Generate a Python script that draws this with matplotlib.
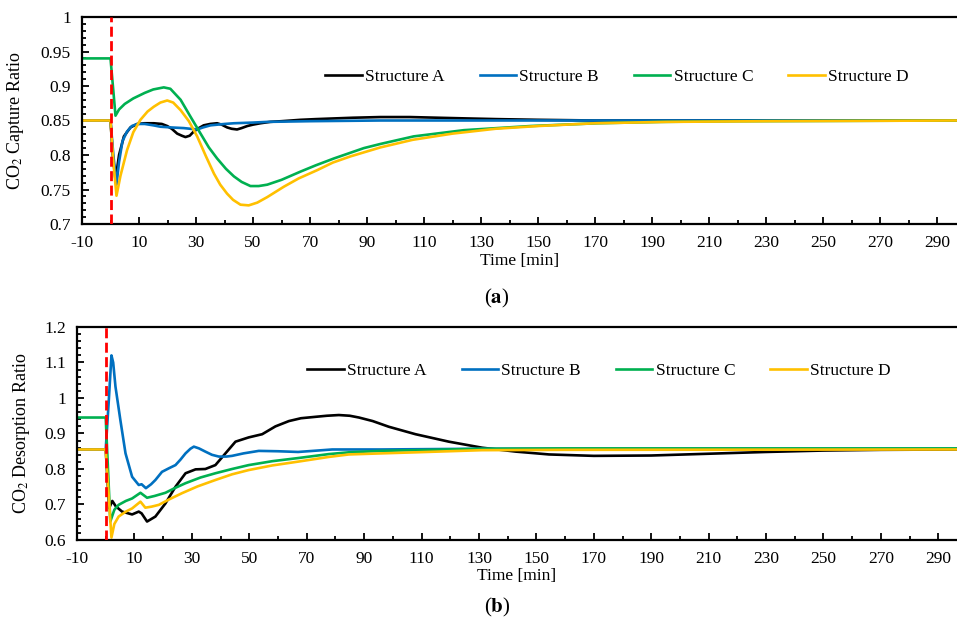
import numpy as np
import matplotlib
matplotlib.use('Agg')
import matplotlib.pyplot as plt
from matplotlib.ticker import MultipleLocator, FuncFormatter

plt.rcParams['font.family'] = ['Liberation Serif', 'DejaVu Serif']
plt.rcParams['mathtext.fontset'] = 'stix'
plt.rcParams['font.size'] = 12.5
plt.rcParams['axes.unicode_minus'] = False

names = ['Structure A', 'Structure B', 'Structure C', 'Structure D']
colors = ['#000000', '#0070C0', '#00B050', '#FFC000']

# (a) CO2 capture ratio
t_a = [-10, 0, 0.8, 1.75, 3, 4.7, 7, 9.4, 12, 15.2, 18, 19.9, 21.5, 23.4, 25, 26.3, 27.8, 29.2, 31, 32.7,
       35, 37.4, 39, 40.9, 42.5, 44.4, 46, 48, 50, 52.6, 56, 60, 66.7, 72, 78.4, 85, 94.7, 105, 115, 125,
       135.6, 150, 170, 200, 250, 297]
cap_a = [0.85, 0.85, 0.80, 0.764, 0.80, 0.827, 0.840, 0.845, 0.846, 0.846, 0.845, 0.842, 0.838, 0.831, 0.828,
         0.826, 0.828, 0.834, 0.839, 0.843, 0.845, 0.846, 0.844, 0.840, 0.838, 0.837, 0.839, 0.842, 0.844,
         0.846, 0.848, 0.849, 0.851, 0.852, 0.853, 0.854, 0.855, 0.855, 0.854, 0.853, 0.852, 0.851, 0.850,
         0.85, 0.85, 0.85]
t_b = [-10, 0, 1, 2.1, 3, 4.2, 5.8, 7.5, 9.4, 12, 15, 17.5, 21, 25.7, 28, 30.4, 32.5, 35.1, 40, 43.3, 50,
       55, 70, 94.7, 150, 297]
cap_b = [0.85, 0.85, 0.80, 0.757, 0.79, 0.82, 0.834, 0.842, 0.845, 0.845, 0.843, 0.841, 0.840, 0.839, 0.838,
         0.837, 0.840, 0.843, 0.845, 0.846, 0.847, 0.848, 0.849, 0.85, 0.85, 0.85]
t_c = [-10, 0, 1.75, 3, 5, 8, 12, 15, 18.7, 21, 24.6, 28, 31.6, 34.5, 37.4, 40.5, 43.3, 46, 49.1, 52, 55,
       60, 66.7, 72, 78.4, 88.9, 94.7, 106.4, 124, 147.4, 170.8, 193, 220, 297]
cap_c = [0.94, 0.94, 0.857, 0.866, 0.874, 0.882, 0.890, 0.895, 0.898, 0.896, 0.88, 0.856, 0.831, 0.811,
         0.795, 0.780, 0.769, 0.761, 0.755, 0.755, 0.757, 0.764, 0.776, 0.785, 0.795, 0.810, 0.816, 0.827,
         0.836, 0.842, 0.846, 0.848, 0.849, 0.85]
t_d = [-10, 0, 1, 2.1, 3.5, 5.8, 8, 10.5, 13, 15.2, 17.5, 19.9, 22, 24.6, 27.5, 30.4, 33.5, 36.3, 38.5,
       40.9, 43, 45.6, 48.5, 51.5, 55, 60.8, 66, 72.5, 78, 84.2, 94.7, 106, 120, 135, 150, 170, 195, 230, 297]
cap_d = [0.85, 0.85, 0.79, 0.741, 0.77, 0.807, 0.833, 0.851, 0.863, 0.870, 0.876, 0.879, 0.876, 0.865,
         0.849, 0.827, 0.798, 0.773, 0.757, 0.744, 0.735, 0.728, 0.727, 0.731, 0.739, 0.754, 0.766, 0.778,
         0.789, 0.798, 0.811, 0.822, 0.831, 0.838, 0.842, 0.846, 0.848, 0.849, 0.85]

# (b) CO2 desorption ratio
s_a = [-10, 0, 1.2, 2.3, 3.5, 5.7, 9.2, 11.5, 12.5, 14.4, 17.3, 20.8, 24.3, 27.8, 31.3, 34.7, 38.2, 41.7,
       45.2, 49.8, 54.5, 59.1, 63.8, 68, 73.1, 77, 81.2, 85, 88.2, 93, 98.6, 107.9, 119.5, 131.1, 142.8,
       154.4, 170, 190, 210, 230, 250, 270, 297]
des_a = [0.855, 0.855, 0.69, 0.71, 0.695, 0.68, 0.672, 0.68, 0.675, 0.652, 0.666, 0.703, 0.75, 0.788, 0.799,
         0.800, 0.811, 0.844, 0.877, 0.889, 0.898, 0.92, 0.935, 0.943, 0.947, 0.950, 0.952, 0.950, 0.945,
         0.935, 0.919, 0.898, 0.877, 0.860, 0.849, 0.841, 0.837, 0.838, 0.843, 0.848, 0.852, 0.854, 0.855]
s_b = [-10, 0, 1.05, 2, 2.6, 3.4, 5.1, 6.9, 9.2, 11.5, 12.5, 14, 15.8, 17.3, 19.6, 22, 24.3, 26, 27.8, 29.5,
       30.7, 32.5, 34.7, 37, 39.4, 42, 44, 48, 53.3, 60, 67, 78.9, 96, 130, 200, 297]
des_b = [0.855, 0.855, 0.99, 1.12, 1.10, 1.032, 0.938, 0.844, 0.778, 0.755, 0.757, 0.746, 0.757, 0.769,
         0.792, 0.802, 0.811, 0.826, 0.844, 0.857, 0.863, 0.858, 0.849, 0.840, 0.835, 0.835, 0.837, 0.844,
         0.851, 0.850, 0.848, 0.855, 0.855, 0.857, 0.857, 0.857]
s_c = [-10, 0, 1.6, 3, 4.5, 7, 9.2, 12.1, 14.4, 17, 20.8, 24, 27.8, 33, 38.2, 44, 49.8, 58, 67.2, 77.7,
       84.7, 96, 108, 131, 160, 297]
des_c = [0.945, 0.945, 0.652, 0.685, 0.699, 0.710, 0.717, 0.733, 0.719, 0.724, 0.733, 0.746, 0.760, 0.776,
         0.788, 0.800, 0.811, 0.822, 0.831, 0.842, 0.847, 0.851, 0.853, 0.857, 0.858, 0.858]
s_d = [-10, 0, 2, 3, 4.5, 7, 9.2, 12.1, 13.8, 16, 18.5, 22, 26.6, 32, 38.2, 44, 49.8, 58, 67.2, 77.7, 84.7,
       96, 108, 131, 160, 297]
des_d = [0.855, 0.855, 0.607, 0.645, 0.666, 0.680, 0.689, 0.708, 0.691, 0.694, 0.699, 0.714, 0.732, 0.751,
         0.769, 0.785, 0.797, 0.810, 0.821, 0.834, 0.841, 0.844, 0.847, 0.853, 0.854, 0.855]


def fmt(v, pos):
    return '%g' % round(v, 3)


def style(ax, xmax, ymin, ymax, ymaj, ymin_step):
    ax.set_xlim(-10, xmax)
    ax.set_ylim(ymin, ymax)
    ax.xaxis.set_minor_locator(MultipleLocator(10))
    ax.set_xticks(np.arange(-10, 300, 20))
    ax.yaxis.set_major_locator(MultipleLocator(ymaj))
    ax.yaxis.set_minor_locator(MultipleLocator(ymin_step))
    ax.yaxis.set_major_formatter(FuncFormatter(fmt))
    ax.tick_params(which='both', direction='in', top=False, right=False, width=1.3)
    ax.tick_params(which='major', length=5, pad=8)
    ax.tick_params(which='minor', length=3)
    for s in ['left', 'bottom', 'top']:
        ax.spines[s].set_linewidth(1.6)
    ax.spines['right'].set_visible(False)
    ax.set_xlabel('Time [min]', labelpad=1)


fig = plt.figure(figsize=(9.57, 6.3), dpi=100)
ax1 = fig.add_axes([82 / 957, 1 - 224 / 630, 875 / 957, 207 / 630])
ax2 = fig.add_axes([77 / 957, 1 - 540 / 630, 880 / 957, 213 / 630])

for t, y, c, n in zip([t_a, t_b, t_c, t_d], [cap_a, cap_b, cap_c, cap_d], colors, names):
    ax1.plot(t, y, color=c, lw=1.9, label=n)
ax1.axvline(0, color='#FF0000', lw=2, ls=(0, (3.6, 1.6)), zorder=5)
style(ax1, 297, 0.7, 1.0, 0.05, 0.01)
ax1.set_ylabel('CO$_2$ Capture Ratio', fontsize=13)
ax1.yaxis.set_label_coords(-0.064, 0.5)
ax1.legend(loc='center', bbox_to_anchor=(617 / 957, 1 - 77 / 630), bbox_transform=fig.transFigure,
           ncol=4, frameon=False, handlelength=2.1, handletextpad=0.2, columnspacing=2.0)

for t, y, c, n in zip([s_a, s_b, s_c, s_d], [des_a, des_b, des_c, des_d], colors, names):
    ax2.plot(t, y, color=c, lw=1.9, label=n)
ax2.axvline(0, color='#FF0000', lw=2, ls=(0, (3.6, 1.6)), zorder=5)
style(ax2, 296.5, 0.6, 1.2, 0.1, 0.02)
ax2.set_ylabel('CO$_2$ Desorption Ratio', fontsize=13)
ax2.yaxis.set_label_coords(-0.051, 0.5)
ax2.legend(loc='center', bbox_to_anchor=(599 / 957, 1 - 371 / 630), bbox_transform=fig.transFigure,
           ncol=4, frameon=False, handlelength=2.1, handletextpad=0.2, columnspacing=2.0)

fig.text(497 / 957, 1 - 298 / 630, r'($\mathbf{a}$)', ha='center', va='center', fontsize=15)
fig.text(497 / 957, 1 - 607 / 630, r'($\mathbf{b}$)', ha='center', va='center', fontsize=15)

fig.savefig('out.png', dpi=100)
